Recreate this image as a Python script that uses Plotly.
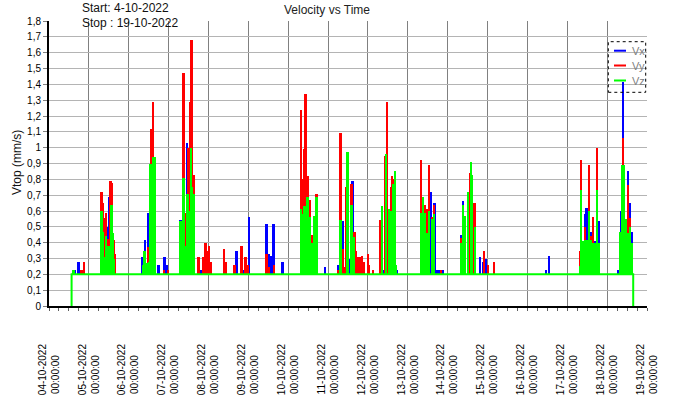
import pandas as pd
import plotly.graph_objects as go

# ---------------- data ----------------
t0 = pd.Timestamp("2022-10-04 00:00")
baseline = 0.2
vz_span_hours = [13.6, 351.7]  # Vz trace starts/ends (value 0 outside)

vx_hours = [15.5, 17.8, 33.7, 35.8, 36.7, 56.5, 57.8, 59.4, 60.3, 66.0, 69.8, 70.9,
            79.4, 80.4, 83.1, 91.4, 113.0, 117.2, 120.3, 131.1, 132.3, 134.1, 135.3,
            140.8, 166.2, 174.4, 177.0, 181.0, 183.0, 201.4, 209.7, 226.2, 229.7,
            232.3, 233.5, 234.6, 237.1, 248.1, 249.3, 259.5, 261.7, 263.3, 299.3,
            301.1, 322.0, 322.9, 323.8, 326.5, 328.9, 331.1, 342.8, 344.4, 345.8,
            347.3, 348.6, 350.0, 351.2]
vx_values = [0.225, 0.275, 0.38, 0.50, 0.69, 0.307, 0.42, 0.586, 0.40, 0.256, 0.31, 0.256,
             0.546, 0.26, 1.03, 0.23, 0.345, 0.23, 0.565, 0.52, 0.33, 0.313, 0.515,
             0.275, 0.244, 0.26, 0.534, 0.294, 0.792, 0.23, 0.23, 0.64, 0.723,
             0.653, 0.23, 0.23, 0.225, 0.45, 0.666, 0.307, 0.275, 0.294, 0.225,
             0.313, 0.31, 0.584, 0.622, 0.47, 0.41, 0.534, 0.23, 0.603, 1.416,
             0.47, 0.855, 0.653, 0.47]

vy_hours = [19.6, 20.8, 31.7, 32.5, 33.1, 34.5, 35.6, 37.1, 38.2, 39.2, 39.8,
            59.8, 61.2, 62.0, 62.9, 69.2, 71.5,
            81.2, 82.6, 83.8, 84.9, 85.8, 87.0,
            90.1, 92.6, 94.3, 95.3, 96.5, 97.6, 105.2, 106.3, 111.7, 116.1, 118.4, 119.6,
            131.2, 132.4, 135.6,
            151.7, 152.9, 154.1, 154.7, 155.7, 156.9, 158.3, 161.3,
            174.4, 175.7, 177.0, 178.1, 178.7, 182.4, 184.2, 184.8, 186.3, 187.2, 188.6,
            189.6, 192.1, 192.9, 195.1,
            199.3, 202.3, 203.5, 204.7, 205.9, 206.5, 207.1,
            224.0, 225.2, 226.4, 227.6, 228.8, 230.6, 231.8, 236.0,
            248.1, 253.3, 254.5, 256.2, 262.1, 264.5, 267.9,
            319.6, 320.5, 322.9, 325.3, 326.5, 327.7, 330.1,
            345.2, 345.8, 348.8, 350.0]
vy_values = [0.23, 0.28, 0.723, 0.653, 0.553, 0.586, 0.424, 0.79, 0.775, 0.42, 0.326,
             0.37, 1.12, 0.95, 1.29, 0.23, 0.23,
             1.47, 0.59, 1.0, 1.29, 1.68, 0.83,
             0.31, 0.31, 0.395, 0.345, 0.38, 0.28, 0.363, 0.275, 0.26, 0.376, 0.307, 0.256,
             0.33, 0.244, 0.256,
             1.24, 0.80, 0.99, 1.34, 0.82, 0.67, 0.45, 0.71,
             0.23, 1.095, 0.363, 0.244, 0.754, 0.773, 0.47, 0.35, 0.307, 0.307, 0.313,
             0.275, 0.326, 0.26, 0.225,
             0.546, 0.95, 1.29, 0.55, 0.754, 0.823, 0.80,
             0.924, 0.60, 0.64, 0.61, 0.893, 0.56, 0.64, 0.225,
             0.43, 0.842, 0.60, 0.653, 0.35, 0.256, 0.28,
             0.35, 0.924, 0.50, 0.893, 0.44, 0.565, 1.0,
             0.81, 1.06, 0.767, 0.553]

vz_hours = [15.0, 31.7, 32.7, 33.6, 34.5, 35.6, 36.7, 37.7, 38.6, 39.4,
            56.6, 57.7, 58.8, 59.9, 61.3, 62.1, 62.8, 63.8,
            79.4, 80.3, 81.2, 82.3, 83.5, 84.4, 85.5, 86.3, 87.1,
            151.7, 152.9, 154.1, 155.7, 156.9, 158.3, 160.1, 161.3,
            175.7, 179.2, 179.8, 182.4, 183.6,
            200.5, 202.9, 204.7, 205.9, 207.1, 208.3, 208.9,
            224.0, 225.2, 226.4, 227.6, 228.8, 230.6, 231.8,
            248.1, 249.3, 250.5, 252.3, 254.1, 254.7, 256.5,
            319.6, 320.5, 321.7, 322.9, 324.1, 325.3, 326.5, 327.7, 328.9, 330.1, 331.1,
            343.9, 345.2, 346.4, 347.6, 348.8, 350.0, 351.2]
vz_values = [0.23, 0.603, 0.47, 0.31, 0.445, 0.378, 0.378, 0.637, 0.464, 0.30,
             0.26, 0.345, 0.27, 0.28, 0.90, 0.72, 0.943, 0.943,
             0.534, 0.39, 0.81, 0.38, 0.705, 0.60, 1.0, 0.75, 0.71,
             0.615, 0.584, 0.634, 0.69, 0.565, 0.40, 0.57, 0.69,
             0.546, 0.704, 0.975, 0.64, 0.433,
             0.634, 0.962, 0.615, 0.60, 0.773, 0.855, 0.256,
             0.586, 0.69, 0.59, 0.464, 0.603, 0.55, 0.584,
             0.40, 0.64, 0.57, 0.723, 0.912, 0.83, 0.50,
             0.25, 0.735, 0.41, 0.42, 0.42, 0.603, 0.42, 0.40, 0.40, 0.735, 0.40,
             0.47, 0.893, 0.893, 0.55, 0.46, 0.50, 0.40]

tick_dates = ["04-10-2022", "05-10-2022", "06-10-2022", "07-10-2022", "08-10-2022",
              "09-10-2022", "10-10-2022", "11-10-2022", "12-10-2022", "13-10-2022",
              "14-10-2022", "15-10-2022", "16-10-2022", "17-10-2022", "18-10-2022",
              "19-10-2022"]
tick_time = "00:00:00"
y_tickvals = [0, 0.1, 0.2, 0.3, 0.4, 0.5, 0.6, 0.7, 0.8, 0.9, 1.0,
              1.1, 1.2, 1.3, 1.4, 1.5, 1.6, 1.7, 1.8]
y_ticktext = ["0", "0,1", "0,2", "0,3", "0,4", "0,5", "0,6", "0,7", "0,8", "0,9", "1",
              "1,1", "1,2", "1,3", "1,4", "1,5", "1,6", "1,7", "1,8"]
series_names = ["Vx", "Vy", "Vz"]
series_colors = ["#0000ff", "#ff0000", "#00ff00"]

title_text = "Velocity vs Time"
start_text = "Start: 4-10-2022"
stop_text = "Stop : 19-10-2022"
y_title = "Vtop (mm/s)"

# ---------------- figure ----------------
FONT = "Liberation Sans, Arial, sans-serif"


def to_time(hours):
    return [t0 + pd.Timedelta(hours=h) for h in hours]


fig = go.Figure()
bar_w = 1.2 * 3600 * 1000
for name, hrs, vals, col in zip(series_names,
                                [vx_hours, vy_hours, vz_hours],
                                [vx_values, vy_values, vz_values],
                                series_colors):
    fig.add_trace(go.Bar(
        x=to_time(hrs), y=[v - baseline for v in vals], base=baseline,
        width=bar_w, name=name, showlegend=False,
        marker=dict(color=col, line=dict(width=0)),
    ))

s, e = to_time(vz_span_hours)
fig.add_trace(go.Scatter(
    x=[s, s, e, e], y=[0, baseline, baseline, 0], mode="lines",
    line=dict(color=series_colors[2], width=2), showlegend=False, name="Vz",
))

tick_vals = [pd.Timestamp(pd.to_datetime(d, format="%d-%m-%Y")) for d in tick_dates]
tick_text = [f"{d}<br>{tick_time}" + "\u00a0" * 4 for d in tick_dates]

fig.update_layout(
    width=697, height=398,
    margin=dict(l=49, r=50, t=21, b=92, autoexpand=False),
    paper_bgcolor="white", plot_bgcolor="white",
    barmode="overlay", bargap=0,
    font=dict(family=FONT, size=10, color="#000000"),
    showlegend=False,
    xaxis=dict(
        type="date", range=[tick_vals[0], tick_vals[-1]],
        tickmode="array", tickvals=tick_vals, ticktext=tick_text,
        tickangle=-90, tickfont=dict(size=10, color="#000000", family=FONT),
        ticklabelstandoff=29,
        showgrid=True, gridcolor="#808080", gridwidth=1,
        showline=True, linecolor="#000000", linewidth=2,
        ticks="outside", ticklen=3, tickcolor="#606060", tickwidth=1,
        minor=dict(tickmode="linear", tick0=tick_vals[0], dtick=6 * 3600 * 1000,
                   ticks="outside", ticklen=3, tickcolor="#606060", showgrid=False),
        zeroline=False, automargin=False,
    ),
    yaxis=dict(
        range=[0, 1.8], tickmode="array", tickvals=y_tickvals, ticktext=y_ticktext,
        tickfont=dict(size=10, color="#000000", family=FONT),
        showgrid=True, gridcolor="#b4b4b4", gridwidth=1,
        showline=True, linecolor="#000000", linewidth=2,
        ticks="outside", ticklen=4, tickcolor="#808080",
        zeroline=False, automargin=False,
    ),
)

W, L, T, H = 598.0, 49.0, 21.0, 285.0


def px(xp):
    return (xp - L) / W


def py(yp):
    return (T + H - yp) / H


annos = [
    dict(text=title_text, x=px(327), y=py(10), xanchor="center", yanchor="middle",
         font=dict(size=12, color="#222222")),
    dict(text=start_text, x=px(80), y=py(8), xanchor="left", yanchor="middle",
         font=dict(size=12, color="#111111")),
    dict(text=stop_text, x=px(80), y=py(23), xanchor="left", yanchor="middle",
         font=dict(size=12, color="#111111")),
    dict(text=y_title, x=px(17), y=py(163), xanchor="center", yanchor="middle",
         textangle=-90, font=dict(size=12, color="#111111")),
]
shapes = [dict(type="rect", xref="paper", yref="paper", x0=px(608.3), x1=px(645.7),
               y0=py(92.3), y1=py(41.7), line=dict(color="#000000", width=1, dash="dot"))]
for i, (nm, col) in enumerate(zip(series_names, series_colors)):
    yy = [50.7, 65.5, 80.5][i]
    shapes.append(dict(type="line", xref="paper", yref="paper", x0=px(614), x1=px(626),
                       y0=py(yy), y1=py(yy), line=dict(color=col, width=2)))
    annos.append(dict(text=nm, x=px(629.5), y=py(yy), xanchor="left", yanchor="middle",
                      font=dict(size=11, color="#808080")))
for a in annos:
    a.update(xref="paper", yref="paper", showarrow=False)
fig.update_layout(annotations=annos, shapes=shapes)

fig.write_html("out.html", config={"displayModeBar": False},
               post_script="document.body.style.margin='0px';")
